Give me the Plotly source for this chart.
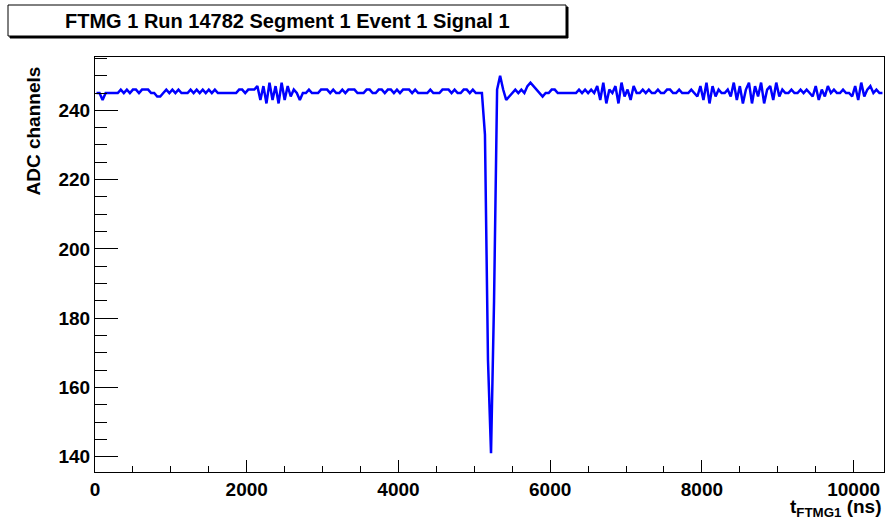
import plotly.graph_objects as go

# ---- data (ADC samples, 40 ns bins, points at bin centres) ----
bin_width_ns = 40
first_bin_center_ns = 20
adc_values = [
    245,245,243,245,245,245,245,245,246,245,246,245,246,246,245,246,246,246,245,245,
    244,244,245,246,245,246,245,246,245,245,245,246,245,246,245,246,245,246,245,246,
    245,245,245,245,245,245,245,246,246,245,246,246,246,247,243,247,242,248,243,247,
    242,248,243,247,244,246,245,243,245,245,246,245,245,245,246,246,246,245,246,245,
    245,246,245,246,246,246,245,245,245,246,246,245,245,246,246,245,246,246,245,246,
    245,246,246,246,245,246,245,245,245,245,246,245,245,245,246,246,246,245,246,245,
    245,246,246,245,246,245,245,245,233,168,141,185,246,250,246,243,244,245,246,245,
    246,245,247,248,247,246,245,244,245,245,246,246,245,245,245,245,245,245,245,246,
    245,246,245,246,245,247,243,248,242,246,245,247,242,248,244,246,243,247,245,245,
    246,245,246,245,245,246,245,245,246,246,245,245,246,245,245,245,246,245,244,247,
    243,248,242,247,244,246,245,245,246,244,248,243,247,242,246,248,242,247,244,248,
    242,246,247,243,248,244,246,245,245,246,245,245,246,245,246,245,244,247,243,246,
    244,247,245,246,245,245,246,245,245,244,247,243,248,244,246,247,245,246,245,245,
]

x_range = [0, 10400]
y_range = [135.6, 255.4]
x_ticks = [0, 2000, 4000, 6000, 8000, 10000]
y_ticks = [140, 160, 180, 200, 220, 240]

title_text = "FTMG 1 Run 14782 Segment 1 Event 1 Signal 1"
y_title = "ADC channels"
x_title = "t<sub>FTMG1</sub> (ns)"

FONT = "Liberation Sans"

fig = go.Figure()
fig.add_trace(go.Scatter(
    y=adc_values, x0=first_bin_center_ns, dx=bin_width_ns,
    mode="lines", line=dict(color="#0000ff", width=2.5),
    hoverinfo="skip", showlegend=False,
))

W, H = 885, 520
L, R, T, B = 95, 1, 57, 48
pw, ph = W - L - R, H - T - B

def px(xp):
    return (xp - L) / pw

def py(yp):
    return (H - B - yp) / ph

fig.update_layout(
    width=W, height=H,
    margin=dict(l=L, r=R, t=T, b=B),
    paper_bgcolor="white", plot_bgcolor="white",
    showlegend=False,
    xaxis=dict(
        range=x_range, tickvals=x_ticks, ticktext=[str(v) for v in x_ticks],
        ticks="inside", ticklen=12, tickwidth=1, tickcolor="black",
        showline=True, linecolor="black", linewidth=1, mirror=True,
        showgrid=False, zeroline=False,
        tickfont=dict(family=FONT, size=19, color="black", weight="bold"),
        minor=dict(dtick=500, tick0=0, ticks="inside", ticklen=6, tickcolor="black", showgrid=False),
    ),
    yaxis=dict(
        range=y_range, tickvals=y_ticks, ticktext=[str(v) for v in y_ticks],
        ticks="inside", ticklen=23, tickwidth=1, tickcolor="black",
        showline=True, linecolor="black", linewidth=1, mirror=True,
        showgrid=False, zeroline=False,
        tickfont=dict(family=FONT, size=19, color="black", weight="bold"),
        minor=dict(dtick=5, tick0=0, ticks="inside", ticklen=12, tickcolor="black", showgrid=False),
    ),
)

# title box with shadow
bx0, bx1, by0, by1 = 8, 566, 5, 36
fig.add_shape(type="rect", xref="paper", yref="paper",
              x0=px(bx0 + 2), x1=px(bx1 + 2), y0=py(by1 + 2), y1=py(by0 + 2),
              fillcolor="black", line=dict(color="black", width=1), layer="above")
fig.add_shape(type="rect", xref="paper", yref="paper",
              x0=px(bx0), x1=px(bx1), y0=py(by1), y1=py(by0),
              fillcolor="white", line=dict(color="black", width=1), layer="above")
fig.add_annotation(text=title_text, xref="paper", yref="paper",
                   x=px((bx0 + bx1) / 2), y=py((by0 + by1) / 2),
                   xanchor="center", yanchor="middle", showarrow=False,
                   font=dict(family=FONT, size=20, color="black", weight="bold"))

# axis titles
fig.add_annotation(text=y_title, xref="paper", yref="paper",
                   x=px(33), y=py(131.5), xanchor="center", yanchor="middle",
                   textangle=-90, showarrow=False,
                   font=dict(family=FONT, size=19, color="black", weight="bold"))
fig.add_annotation(text=x_title, xref="paper", yref="paper",
                   x=1.0, y=py(508), xanchor="right", yanchor="middle",
                   showarrow=False,
                   font=dict(family=FONT, size=19, color="black", weight="bold"))

fig.write_html("out.html", config={"displayModeBar": False},
               post_script="document.body.style.margin='0';document.body.style.overflow='hidden';")
